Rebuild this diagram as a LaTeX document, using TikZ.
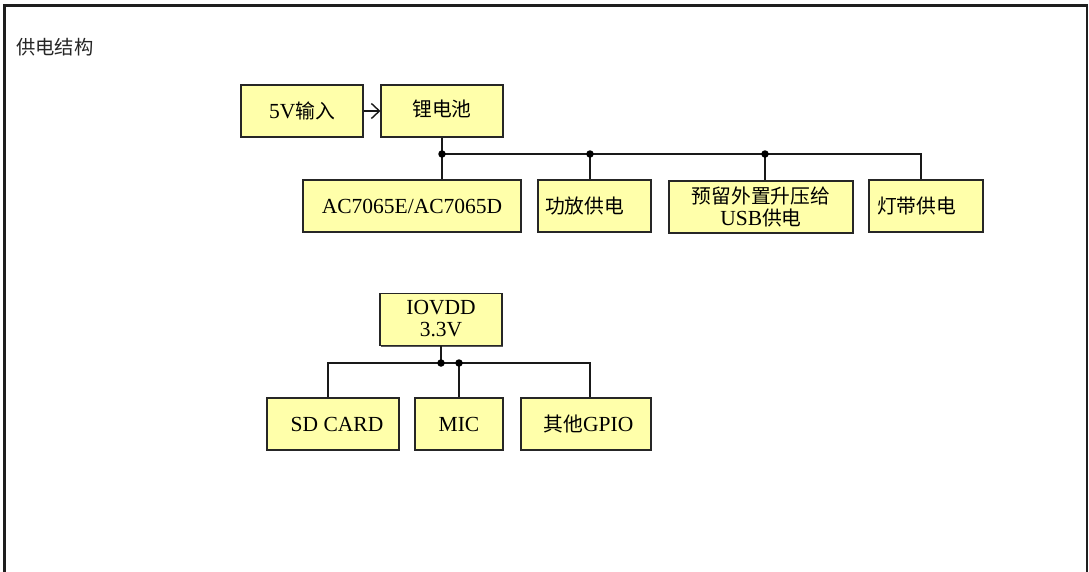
\documentclass[tikz,border=0pt]{standalone}
\usepackage{fontspec}
\setmainfont{Liberation Serif}
\newfontfamily\cjk[Scale=0.92]{Noto Sans CJK SC}
\usetikzlibrary{arrows.meta,shadows}
\definecolor{boxfill}{RGB}{255,255,170}
\definecolor{framecol}{RGB}{30,30,30}
\begin{document}
\begin{tikzpicture}[x=1pt,y=-1pt,
  box/.style={draw=black!85, line width=1.1pt, fill=boxfill, minimum height=52pt,
    inner sep=0pt, font=\fontsize{21.5}{21.5}\selectfont, align=center,
    drop shadow={shadow xshift=1.2pt, shadow yshift=-1.2pt, fill=black!65, opacity=1}},
  wire/.style={line width=1.8pt, draw=black!90},
  jdot/.style={circle, fill=black, inner sep=0pt, minimum size=7.5pt}]
\useasboundingbox (0,0) rectangle (1089,571);
\fill[white] (0,0) rectangle (1089,571);
% frame
\draw[line width=2.2pt, draw=framecol] (4.5,600) -- (4.5,5.5) -- (1087,5.5) -- (1087,600);
% title
\node[anchor=west, font=\fontsize{21}{21}\selectfont\cjk, text=black!85, inner sep=0pt] (title) at (16,47) {供电结构};
% top group
\node[box, minimum width=122pt] (in5v) at (302,111) {5V{\cjk 输入}};
\node[box, minimum width=122pt] (li) at (442,111) {\raisebox{5pt}{\cjk 锂电池}};
\node[box, minimum width=218pt] (ac) at (412,206) {AC7065E/AC7065D};
\node[box, text width=99pt, inner xsep=7pt, align=left] (amp) at (594.5,206) {\cjk 功放供电};
\node[box, minimum width=184pt] (usb) at (761,207) {{\cjk 预留外置升压给}\\USB{\cjk 供电}};
\node[box, text width=98pt, inner xsep=8pt, align=left] (lamp) at (926,206) {\cjk 灯带供电};
\draw[line width=1.4pt, draw=black!90, -{Straight Barb[length=8pt,width=15pt,line width=1.4pt]}] (in5v) -- (li);
\coordinate (j1) at (442,154);
\coordinate (j2) at (590,154);
\coordinate (j3) at (765,154);
\coordinate (j4) at (921,154);
\draw[wire] (li.south) -- (j1) -- (j4) -- (j4 |- lamp.north);
\draw[wire] (j1) -- (j1 |- ac.north);
\draw[wire] (j2) -- (j2 |- amp.north);
\draw[wire] (j3) -- (j3 |- usb.north);
\node[jdot] at (j1) {};
\node[jdot] at (j2) {};
\node[jdot] at (j3) {};
% bottom group
\node[box, minimum width=122pt] (io) at (441,319.5) {\raisebox{2pt}{IOVDD}\\\raisebox{2pt}{3.3V}};
\node[box, minimum width=132pt] (sd) at (333,424) {\hspace{8pt}SD CARD};
\node[box, minimum width=88pt] (mic) at (459,424) {MIC};
\node[box, minimum width=130pt] (gpio) at (586,424) {\hspace{5pt}{\cjk 其他}GPIO};
\coordinate (k1) at (441,363);
\coordinate (k2) at (459,363);
\coordinate (kl) at (328,363);
\coordinate (kr) at (590,363);
\draw[wire] (io.south) -- (k1);
\draw[wire] (kl |- sd.north) -- (kl) -- (kr) -- (kr |- gpio.north);
\draw[wire] (k2) -- (mic.north);
\node[jdot] at (k1) {};
\node[jdot] at (k2) {};
\end{tikzpicture}
\end{document}
